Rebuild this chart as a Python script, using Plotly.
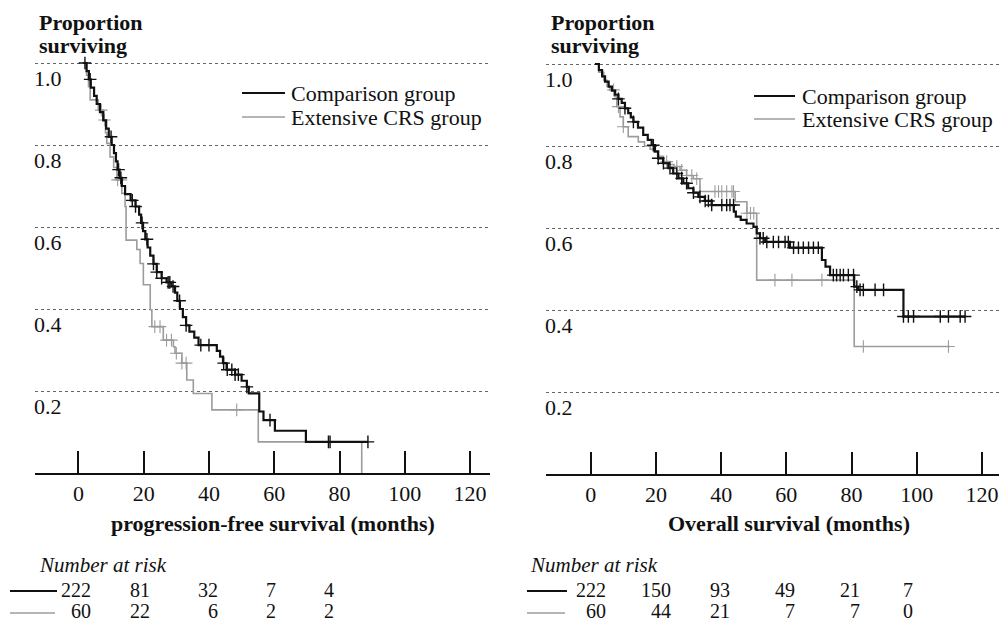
import numpy as np
import plotly.graph_objects as go

# ---------------- DATA ----------------
# Progression-free survival, comparison group (event times / survival after event)
pfs_comp_t = [1.5, 2.5, 3.2, 3.8, 4.8, 5.6, 6.6, 7.6, 8.5, 9.3, 10.2, 10.9, 11.5, 12.0, 12.6, 13.3,
              14.3, 16.0, 17.5, 18.6, 19.2, 19.8, 20.5, 21.2, 22.0, 23.0, 24.0, 25.5, 27.0, 28.5,
              29.6, 30.3, 31.1, 32.0, 33.0, 34.0, 35.5, 36.8, 42.4, 43.4, 44.3, 45.4, 48.0, 50.0,
              51.6, 52.2, 55.4, 56.7, 60.2, 69.7]
pfs_comp_s = [1.0, 0.98, 0.96, 0.94, 0.92, 0.90, 0.88, 0.86, 0.84, 0.82, 0.80, 0.78, 0.76, 0.74, 0.72, 0.70,
              0.68, 0.665, 0.65, 0.63, 0.61, 0.59, 0.57, 0.55, 0.53, 0.51, 0.49, 0.475, 0.465, 0.455,
              0.44, 0.42, 0.40, 0.38, 0.36, 0.345, 0.33, 0.312, 0.298, 0.284, 0.268, 0.252, 0.24, 0.225,
              0.21, 0.194, 0.150, 0.129, 0.103, 0.076]
pfs_comp_end = 88.8
pfs_comp_cens = [2.0, 3.6, 10.0, 12.3, 13.0, 16.5, 17.5, 19.5, 21.0, 23.0, 24.0, 25.5, 27.5, 28.0, 29.0,
                 31.0, 33.0, 37.5, 40.0, 44.5, 45.6, 47.0, 48.0, 49.0, 51.6, 58.7, 76.6, 77.1, 88.7]

# Progression-free survival, extensive CRS group
pfs_ext_t = [1.5, 2.5, 3.1, 3.6, 6.1, 7.7, 8.3, 8.7, 9.7, 10.8, 11.8, 13.3, 14.3, 14.6, 17.9, 18.9,
             19.9, 22.0, 22.5, 26.0, 29.1, 29.6, 31.7, 33.2, 35.2, 40.9, 55.1, 86.8]
pfs_ext_s = [1.0, 0.97, 0.942, 0.91, 0.885, 0.861, 0.83, 0.804, 0.771, 0.745, 0.715, 0.682, 0.65, 0.568,
             0.545, 0.511, 0.459, 0.398, 0.357, 0.324, 0.308, 0.292, 0.268, 0.227, 0.194, 0.154, 0.076, 0.0]
pfs_ext_end = 86.8
pfs_ext_cens = [7.0, 8.0, 12.0, 13.0, 23.4, 25.0, 27.0, 28.5, 30.0, 31.7, 33.0, 48.5]

# Overall survival, comparison group
os_comp_t = [1.3, 2.5, 3.5, 4.4, 5.5, 6.5, 7.5, 8.5, 9.5, 10.5, 11.5, 12.3, 13.1, 14.5, 16.1, 17.5,
             18.7, 19.7, 20.7, 22.2, 23.8, 25.3, 26.9, 28.4, 29.9, 31.5, 33.0, 35.0, 37.1, 43.9,
             44.5, 46.0, 47.8, 49.9, 50.9, 51.9, 53.5, 61.1, 70.9, 72.0, 73.4, 80.8, 82.0, 95.9]
os_comp_s = [1.0, 0.985, 0.97, 0.957, 0.945, 0.935, 0.925, 0.915, 0.905, 0.892, 0.88, 0.87, 0.859, 0.845,
             0.827, 0.815, 0.802, 0.787, 0.77, 0.758, 0.746, 0.733, 0.721, 0.709, 0.697, 0.686, 0.676,
             0.666, 0.656, 0.640, 0.628, 0.62, 0.611, 0.603, 0.587, 0.575, 0.566, 0.552, 0.522, 0.506,
             0.485, 0.457, 0.449, 0.384]
os_comp_end = 114.8
os_comp_cens = [8.5, 10.5, 13.1, 19.2, 20.7, 22.3, 24.3, 26.4, 27.9, 29.4, 31.5, 33.5, 35.1, 36.1, 37.1,
                40.2, 41.7, 42.7, 43.8, 51.9, 52.9, 54.0, 56.0, 57.6, 59.6, 60.6, 62.2, 63.7, 65.2,
                66.8, 68.3, 69.8, 74.4, 75.4, 76.5, 77.5, 79.0, 80.6, 81.6, 82.6, 83.6, 87.2, 89.8,
                95.9, 97.4, 99.0, 107.2, 109.7, 113.3, 114.8]

# Overall survival, extensive CRS group
os_ext_t = [1.3, 2.5, 4.0, 5.0, 5.9, 7.4, 8.0, 9.0, 10.0, 11.5, 14.6, 16.5, 18.2, 19.5, 20.5, 22.3,
            24.0, 25.5, 27.4, 29.4, 31.5, 33.5, 44.3, 47.9, 50.9, 80.8]
os_ext_s = [1.0, 0.98, 0.96, 0.945, 0.937, 0.92, 0.896, 0.871, 0.847, 0.823, 0.81, 0.80, 0.792, 0.785,
            0.775, 0.762, 0.755, 0.75, 0.741, 0.728, 0.72, 0.689, 0.664, 0.636, 0.473, 0.311]
os_ext_end = 110.2
os_ext_cens = [7.0, 8.5, 10.0, 23.3, 26.4, 27.9, 29.4, 31.0, 32.5, 33.5, 38.1, 39.2, 40.2, 41.7,
               43.3, 43.8, 47.9, 49.0, 50.0, 56.5, 61.7, 70.9, 83.6, 109.7]

# Number at risk
pfs_risk_times = [0, 20, 40, 60, 80]
pfs_risk_comp = [222, 81, 32, 7, 4]
pfs_risk_ext = [60, 22, 6, 2, 2]
os_risk_times = [0, 20, 40, 60, 80, 100]
os_risk_comp = [222, 150, 93, 49, 21, 7]
os_risk_ext = [60, 44, 21, 7, 7, 0]

y_ticks = [0.2, 0.4, 0.6, 0.8, 1.0]
x_ticks = [0, 20, 40, 60, 80, 100, 120]
group_names = ["Comparison group", "Extensive CRS group"]

# ---------------- STYLE ----------------
W, H = 1006, 624
FONT = "Liberation Serif"
BLACK = "#111111"
GRAY = "#9c9c9c"


def px(x):
    return x / W


def py(y):
    return 1 - y / H


def step_xy(t, s, end):
    xs = list(t) + ([end] if end > t[-1] else [])
    ys = list(s) + ([s[-1]] if end > t[-1] else [])
    return xs, ys


def cens_y(t, s, c):
    idx = np.searchsorted(np.array(t), np.array(c), side="right") - 1
    idx = np.clip(idx, 0, len(s) - 1)
    return list(np.array(s)[idx])


fig = go.Figure()

panels = [
    dict(xa="x", ya="y",
         curves=[(pfs_comp_t, pfs_comp_s, pfs_comp_end, pfs_comp_cens, BLACK, 2.2),
                 (pfs_ext_t, pfs_ext_s, pfs_ext_end, pfs_ext_cens, GRAY, 1.6)]),
    dict(xa="x2", ya="y2",
         curves=[(os_comp_t, os_comp_s, os_comp_end, os_comp_cens, BLACK, 2.2),
                 (os_ext_t, os_ext_s, os_ext_end, os_ext_cens, GRAY, 1.6)]),
]

for p in panels:
    for i in [1, 0]:
        t, s, end, cens, col, lw = p["curves"][i]
        xs, ys = step_xy(t, s, end)
        fig.add_trace(go.Scatter(x=xs, y=ys, mode="lines", line=dict(color=col, width=lw, shape="hv"),
                                 name=group_names[i], xaxis=p["xa"], yaxis=p["ya"],
                                 showlegend=False, hoverinfo="skip"))
        fig.add_trace(go.Scatter(x=cens, y=cens_y(t, s, cens), mode="markers",
                                 marker=dict(symbol="cross-thin", size=9,
                                             line=dict(color=col, width=1.4 if i == 0 else 1.1)),
                                 xaxis=p["xa"], yaxis=p["ya"], showlegend=False, hoverinfo="skip",
                                 cliponaxis=False))

axis_common = dict(showgrid=False, zeroline=False, showline=True, linecolor=BLACK, linewidth=1.5,
                   ticks="inside", ticklen=22, tickwidth=1.5, tickcolor=BLACK,
                   tickvals=x_ticks, tickfont=dict(family=FONT, size=22, color=BLACK))
yaxis_common = dict(showgrid=True, gridcolor="#666666", griddash="dot", gridwidth=1,
                    zeroline=False, showline=False, showticklabels=False, ticks="",
                    tickvals=y_ticks)

fig.update_layout(
    width=W, height=H, margin=dict(l=0, r=0, t=0, b=0),
    paper_bgcolor="white", plot_bgcolor="white",
    font=dict(family=FONT, size=22, color=BLACK),
    xaxis=dict(domain=[px(35), px(490)], range=[-13.3, 126.1], anchor="y", **axis_common),
    yaxis=dict(domain=[py(473), py(55)], range=[0, 1.0195], anchor="x", **yaxis_common),
    xaxis2=dict(domain=[px(545.7), px(999)], range=[-13.8, 125.2], anchor="y2", **axis_common),
    yaxis2=dict(domain=[py(474), py(55)], range=[0, 1.022], anchor="x2", **yaxis_common),
    showlegend=False,
)

ann = []
shapes = []
# y tick labels placed below gridlines
for xr, yr in [("x domain", "y"), ("x2 domain", "y2")]:
    for v in y_ticks:
        ann.append(dict(x=0, xref=xr, y=v, yref=yr, text=f"{v:.1f}", showarrow=False,
                        xanchor="left", yanchor="middle", yshift=-15, xshift=-3,
                        font=dict(family=FONT, size=22, color=BLACK)))

# Legends (drawn manually for tight row spacing)
for (lx0, lx1, tx, ys) in [(242, 285, 289, (93, 117)), (754, 795, 800, (96, 119))]:
    for k, (col, lw) in enumerate([(BLACK, 2.2), (GRAY, 1.6)]):
        shapes.append(dict(type="line", xref="paper", yref="paper", x0=px(lx0), x1=px(lx1),
                           y0=py(ys[k]), y1=py(ys[k]), line=dict(color=col, width=lw)))
        ann.append(dict(x=px(tx), y=py(ys[k]), xref="paper", yref="paper", text=group_names[k],
                        showarrow=False, xanchor="left", yanchor="middle", font=dict(size=22)))

# Axis headings
for x0 in [37, 549]:
    ann.append(dict(x=px(x0), y=py(23), xref="paper", yref="paper", text="<b>Proportion</b>",
                    showarrow=False, xanchor="left", yanchor="middle", font=dict(size=22)))
    ann.append(dict(x=px(x0), y=py(46), xref="paper", yref="paper", text="<b>surviving</b>",
                    showarrow=False, xanchor="left", yanchor="middle", font=dict(size=22)))

ann.append(dict(x=px(273), y=py(523), xref="paper", yref="paper",
                text="<b>progression-free survival (months)</b>", showarrow=False,
                xanchor="center", yanchor="middle", font=dict(size=22)))
ann.append(dict(x=px(789), y=py(523), xref="paper", yref="paper",
                text="<b>Overall survival (months)</b>", showarrow=False,
                xanchor="center", yanchor="middle", font=dict(size=22)))

# Number at risk
for x0 in [37, 528]:
    ann.append(dict(x=px(x0), y=py(565), xref="paper", yref="paper", text="<i>Number at risk</i>",
                    showarrow=False, xanchor="left", yanchor="middle", font=dict(size=21)))

pfs_shift = [15, 8, 11, 4, -4]
os_shift = [17, 17, 11, 11, 10, -2]
for xr, times, rows, shifts in [("x", pfs_risk_times, [pfs_risk_comp, pfs_risk_ext], pfs_shift),
                                ("x2", os_risk_times, [os_risk_comp, os_risk_ext], os_shift)]:
    for r, vals in enumerate(rows):
        for k, (tt, v) in enumerate(zip(times, vals)):
            if r == 0:
                ann.append(dict(x=tt, xref=xr, y=py(590), yref="paper",
                                text=str(v), showarrow=False, xanchor="right", yanchor="middle",
                                xshift=shifts[k], font=dict(size=20)))
            else:
                ann.append(dict(x=tt, xref=xr, y=py(624), yref="paper",
                                text=str(v), showarrow=False, xanchor="right", yanchor="bottom",
                                xshift=shifts[k], font=dict(size=20)))

for (x0, x1) in [(10, 57), (527, 567)]:
    shapes.append(dict(type="line", xref="paper", yref="paper", x0=px(x0), x1=px(x1),
                       y0=py(591), y1=py(591), line=dict(color=BLACK, width=2)))
    shapes.append(dict(type="line", xref="paper", yref="paper", x0=px(x0), x1=px(x1 - 2),
                       y0=py(613), y1=py(613), line=dict(color=GRAY, width=1.6)))

fig.update_layout(annotations=ann, shapes=shapes)

fig.write_html("out.html", config={"displayModeBar": False},
               post_script="document.body.style.margin='0';document.body.style.padding='0';"
                           "document.body.style.overflow='hidden';")
